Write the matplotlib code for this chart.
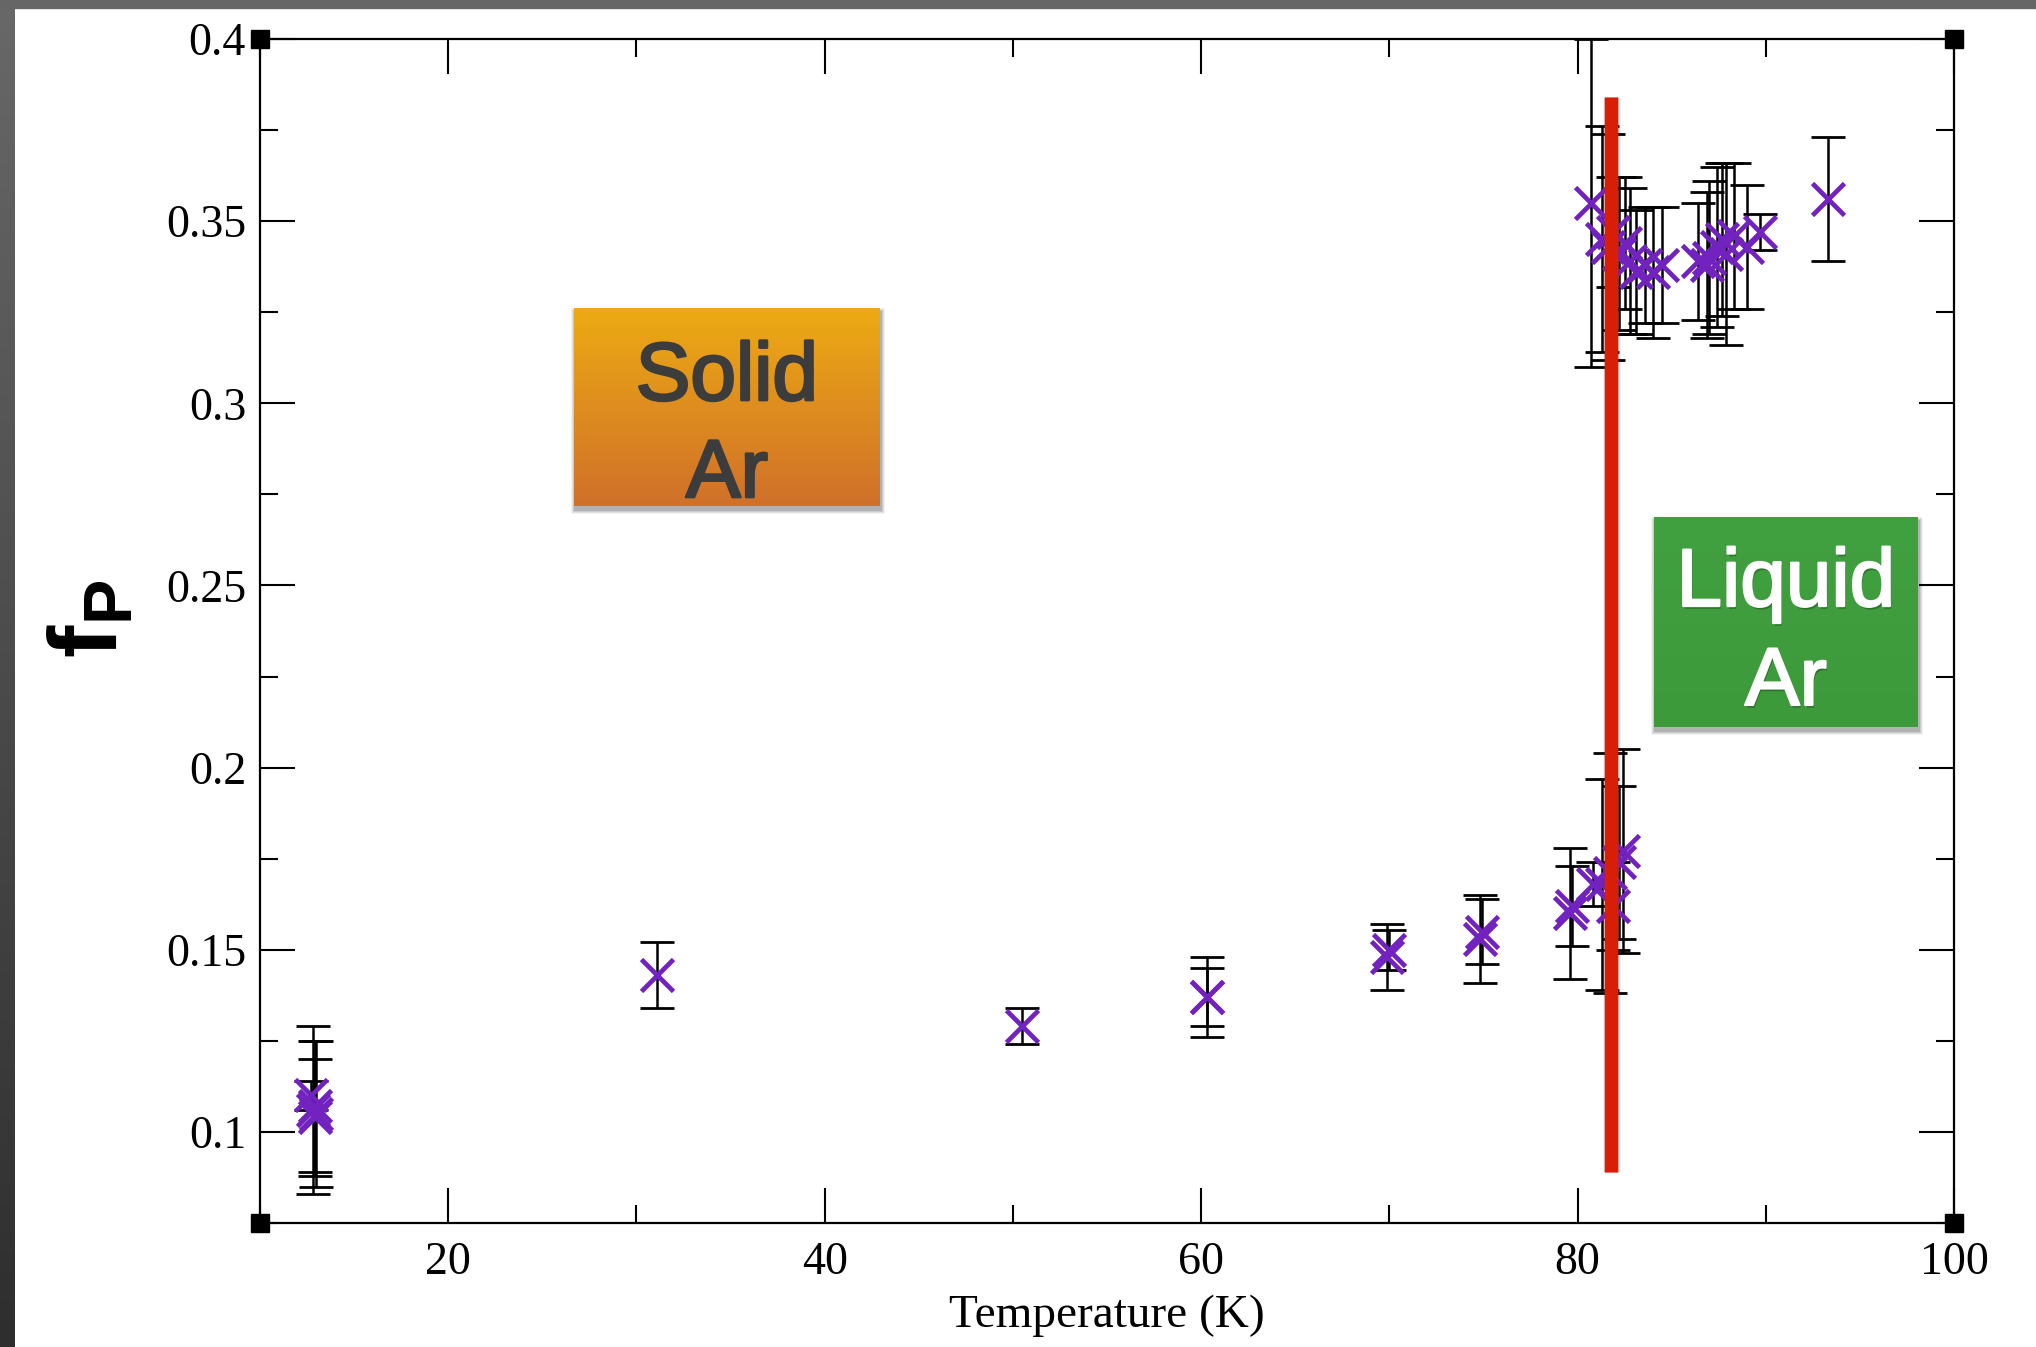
import numpy as np
import matplotlib.pyplot as plt
import matplotlib.patheffects as pe
from matplotlib.colors import LinearSegmentedColormap
from matplotlib.patches import Rectangle
from matplotlib.ticker import FixedLocator, FuncFormatter

# values: temperature (K), f_P and its error bar
temp = [12.7, 12.9, 13.0, 12.8, 12.9,
        31.1, 50.5, 60.3, 60.3, 69.9, 70.0, 74.9, 74.8,
        79.6, 79.7, 80.8, 81.3, 81.7, 81.9, 82.2, 82.4,
        80.7, 81.3, 81.6, 81.9, 82.2, 82.5, 82.8, 83.1, 83.6, 84.0, 84.5,
        86.4, 86.9, 87.0, 87.4, 87.7, 87.9, 88.3, 89.0, 89.7, 93.3]
fp = [0.110, 0.107, 0.105, 0.106, 0.104,
      0.143, 0.129, 0.137, 0.137, 0.148, 0.150, 0.155, 0.153,
      0.160, 0.162, 0.168, 0.168, 0.171, 0.162, 0.174, 0.177,
      0.355, 0.345, 0.343, 0.347, 0.341, 0.344, 0.339, 0.336, 0.338, 0.336, 0.338,
      0.339, 0.338, 0.340, 0.343, 0.345, 0.341, 0.346, 0.343, 0.347, 0.356]
fp_err = [0.004, 0.018, 0.020, 0.023, 0.016,
          0.009, 0.005, 0.011, 0.008, 0.009, 0.0055, 0.009, 0.012,
          0.018, 0.011, 0.006, 0.029, 0.033, 0.012, 0.021, 0.028,
          0.045, 0.031, 0.031, 0.015, 0.021, 0.018, 0.020, 0.017, 0.016, 0.018, 0.016,
          0.016, 0.020, 0.021, 0.022, 0.021, 0.025, 0.020, 0.017, 0.005, 0.017]

# hand drawn melting line
melt_T = [81.8, 81.8]
melt_f = [0.089, 0.384]

x_major = [20, 40, 60, 80, 100]
x_minor = [10, 30, 50, 70, 90]
y_major = [0.1, 0.15, 0.2, 0.25, 0.3, 0.35, 0.4]
y_minor = [0.075, 0.125, 0.175, 0.225, 0.275, 0.325, 0.375]

plt.rcParams['mathtext.fontset'] = 'custom'
plt.rcParams['mathtext.bf'] = 'Liberation Sans:bold'
plt.rcParams['mathtext.rm'] = 'Liberation Sans'

W, H = 2036, 1347
fig = plt.figure(figsize=(W / 100, H / 100), dpi=100)
fig.patch.set_facecolor('white')

# grey frame strips from the screenshot
fig.patches.append(Rectangle((0, 1 - 8 / H), 1, 8 / H, transform=fig.transFigure,
                             color='#666666', zorder=0))
strip = fig.add_axes([0, 0, 15 / W, 1])
strip.imshow(np.linspace(0, 1, 256).reshape(-1, 1), aspect='auto',
             cmap=LinearSegmentedColormap.from_list('s', ['#686868', '#2e2e2e']))
strip.axis('off')

ax = fig.add_axes([260 / W, 1 - 1223 / H, 1694 / W, 1184 / H])
ax.set_zorder(0)

ax.errorbar(temp, fp, yerr=fp_err, fmt='none', ecolor='black',
            elinewidth=1.8, capsize=12.5, capthick=2, zorder=2)
ax.plot(temp, fp, 'x', color='#7222be', ms=23, mew=3.4, zorder=3)
ax.plot(melt_T, melt_f, color='#d81e05', lw=9.5, solid_capstyle='butt', zorder=4,
        path_effects=[pe.Stroke(linewidth=11, foreground='#d81e05', alpha=0.35), pe.Normal()])

# corner squares (xmgrace style)
ax.plot([10, 100, 10, 100], [0.075, 0.075, 0.4, 0.4], 's', color='black',
        ms=13.5, clip_on=False, zorder=10)

ax.set_xlim(10, 100)
ax.set_ylim(0.075, 0.4)
ax.xaxis.set_major_locator(FixedLocator(x_major))
ax.xaxis.set_minor_locator(FixedLocator(x_minor))
ax.yaxis.set_major_locator(FixedLocator(y_major))
ax.yaxis.set_minor_locator(FixedLocator(y_minor))
ax.yaxis.set_major_formatter(FuncFormatter(lambda v, p: f'{v:g}'))

for s in ax.spines.values():
    s.set_linewidth(1.6)
ax.tick_params(which='both', direction='in', top=True, right=True, width=1.5,
               labelsize=33, labelfontfamily='Liberation Serif')
ax.tick_params(which='major', length=25)
ax.tick_params(which='minor', length=13)
ax.tick_params(axis='x', pad=13)
ax.tick_params(axis='y', pad=10)

ax.set_xlabel('Temperature (K)', fontsize=34, family='Liberation Serif', labelpad=8)

fig.text(91 / W, 1 - 619 / H, r'$\mathbf{f}_{\mathbf{P}}$', fontsize=70,
         rotation=90, ha='center', va='center')


def label_box(x0, y0, x1, y1, colors, lines, text_color, size, baselines, effects):
    # soft drop shadow, under the box but over the plot
    for k, a in enumerate([0.05, 0.07, 0.09, 0.12]):
        g = 4 - k
        fig.patches.append(Rectangle(((x0 + 1 - g) / W, 1 - (y1 + 4 + g) / H),
                                     (x1 - x0 + 2 * g) / W, (y1 - y0 + 2 * g) / H,
                                     transform=fig.transFigure, color='black',
                                     alpha=a, lw=0, zorder=1))
    bx = fig.add_axes([x0 / W, 1 - y1 / H, (x1 - x0) / W, (y1 - y0) / H])
    bx.set_zorder(5)
    bx.imshow(np.linspace(0, 1, 256).reshape(-1, 1), aspect='auto',
              extent=(0, 1, 0, 1),
              cmap=LinearSegmentedColormap.from_list('b', colors))
    bx.set_xlim(0, 1)
    bx.set_ylim(0, 1)
    bx.axis('off')
    for txt, yb in zip(lines, baselines):
        bx.text(0.5, yb, txt, ha='center', va='baseline', fontsize=size,
                family='Liberation Sans', color=text_color, path_effects=effects)


label_box(574, 308, 880, 506, ['#edab13', '#d0702a'], ['Solid', 'Ar'], '#3c3c3c', 59,
          [0.535, 0.045],
          [pe.withSimplePatchShadow(offset=(0, -1), shadow_rgbFace='#f6d48c', alpha=0.6),
           pe.withStroke(linewidth=2.0, foreground='#3c3c3c')])
label_box(1654, 517, 1918, 727, ['#41a03f', '#3d9a3b'], ['Liquid', 'Ar'], 'white', 59,
          [0.576, 0.105],
          [pe.withSimplePatchShadow(offset=(1, -2), shadow_rgbFace='#1e4a1d', alpha=0.5),
           pe.withStroke(linewidth=1.6, foreground='white')])

fig.savefig('out.png', dpi=100)
